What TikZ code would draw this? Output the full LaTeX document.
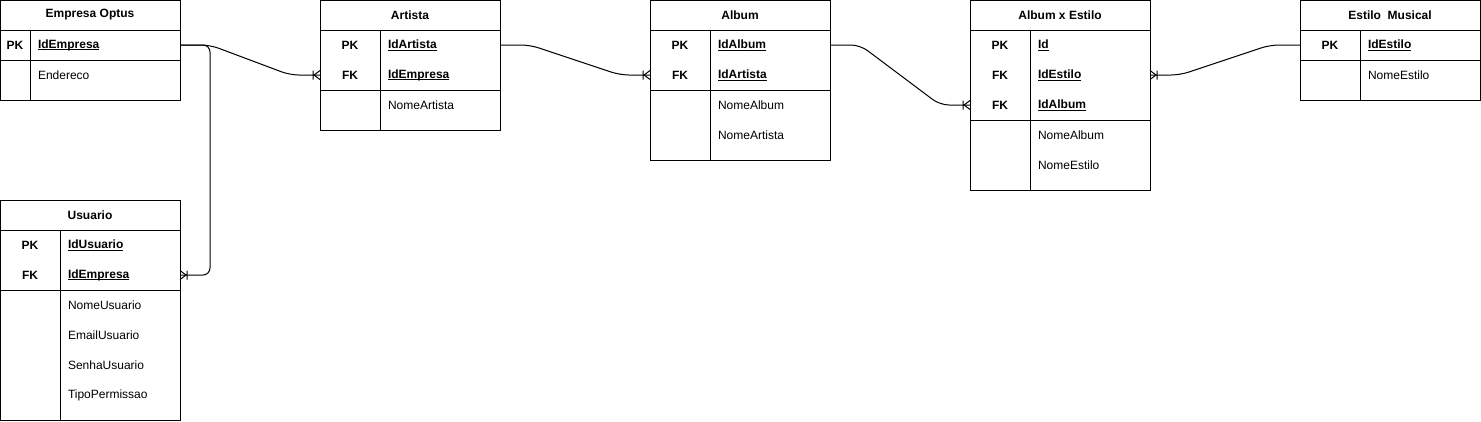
\documentclass[tikz,border=0pt,12pt]{standalone}
\usepackage{fontspec}
\setmainfont{Liberation Sans}
\usetikzlibrary{positioning,calc}

% crow's foot with bar (one or many)
\pgfdeclarearrow{
  name = crowfoot,
  setup code = {
    \pgfarrowssettipend{0pt}
    \pgfarrowssetlineend{0pt}
    \pgfarrowssetbackend{-7pt}
    \pgfarrowshullpoint{0pt}{4.5pt}
    \pgfarrowshullpoint{0pt}{-4.5pt}
    \pgfarrowshullpoint{-7pt}{4.5pt}
    \pgfarrowshullpoint{-7pt}{-4.5pt}
  },
  drawing code = {
    \pgfsetdash{}{0pt}
    \pgfpathmoveto{\pgfqpoint{0pt}{4.5pt}}
    \pgfpathlineto{\pgfqpoint{-6pt}{0pt}}
    \pgfpathlineto{\pgfqpoint{0pt}{-4.5pt}}
    \pgfpathmoveto{\pgfqpoint{-7pt}{4.5pt}}
    \pgfpathlineto{\pgfqpoint{-7pt}{-4.5pt}}
    \pgfusepathqstroke
  }
}

\newcommand{\idfield}[1]{\textbf{\underline{\smash{#1}}\vphantom{#1}}}

\begin{document}
\begin{tikzpicture}[x=1pt,y=-1pt,line width=1pt,
    tblhead/.style={draw,minimum width=180pt,minimum height=30pt,inner sep=0pt,outer sep=0pt,font=\bfseries},
    sect/.style={draw,minimum width=180pt,inner sep=0pt,outer sep=0pt},
    keycell/.style={minimum width=60pt,minimum height=30pt,inner sep=0pt,outer sep=0pt,font=\bfseries},
    fldcell/.style={minimum height=30pt,inner xsep=8pt,inner ysep=0pt,outer sep=0pt,text width=104pt,align=left},
    rel/.style={-crowfoot,rounded corners=9pt}]

    \useasboundingbox (0,0) rectangle (1481,421);

    % Empresa Optus
    \node[tblhead] (emp) at (90,15) {Empresa Optus};
    \node[sect,minimum height=30pt,below=0pt of emp] (emp-k) {};
    \node[sect,minimum height=40pt,below=0pt of emp-k] (emp-a) {};
    \node[keycell,minimum width=30pt,anchor=north west] (emp-pk) at (emp-k.north west) {PK};
    \node[fldcell,text width=134pt,right=0pt of emp-pk] (emp-id) {\idfield{IdEmpresa}};
    \node[fldcell,text width=134pt,anchor=north west] (emp-end) at (emp-id.west |- emp-a.north) {Endereco};
    \draw (emp-pk.north east) -- (emp-pk.east |- emp-a.south);

    % Usuario
    \node[tblhead] (usr) at (90,215) {Usuario};
    \node[sect,minimum height=60pt,below=0pt of usr] (usr-k) {};
    \node[sect,minimum height=130pt,below=0pt of usr-k] (usr-a) {};
    \node[keycell,anchor=north west] (usr-pk) at (usr-k.north west) {PK};
    \node[fldcell,right=0pt of usr-pk] (usr-id) {\idfield{IdUsuario}};
    \node[keycell,below=0pt of usr-pk] (usr-fk) {FK};
    \node[fldcell,right=0pt of usr-fk] (usr-emp) {\idfield{IdEmpresa}};
    \node[fldcell,anchor=north west] (usr-nome) at (usr-emp.west |- usr-a.north) {NomeUsuario};
    \node[fldcell,below=0pt of usr-nome] (usr-email) {EmailUsuario};
    \node[fldcell,below=0pt of usr-email] (usr-senha) {SenhaUsuario};
    \node[fldcell,below=0pt of usr-senha] (usr-tipo) {TipoPermissao};
    \draw (usr-pk.north east) -- (usr-pk.east |- usr-a.south);

    % Artista
    \node[tblhead] (art) at (410,15) {Artista};
    \node[sect,minimum height=60pt,below=0pt of art] (art-k) {};
    \node[sect,minimum height=40pt,below=0pt of art-k] (art-a) {};
    \node[keycell,anchor=north west] (art-pk) at (art-k.north west) {PK};
    \node[fldcell,right=0pt of art-pk] (art-id) {\idfield{IdArtista}};
    \node[keycell,below=0pt of art-pk] (art-fk) {FK};
    \node[fldcell,right=0pt of art-fk] (art-emp) {\idfield{IdEmpresa}};
    \node[fldcell,anchor=north west] (art-nome) at (art-emp.west |- art-a.north) {NomeArtista};
    \draw (art-pk.north east) -- (art-pk.east |- art-a.south);

    % Album
    \node[tblhead] (alb) at (740,15) {Album};
    \node[sect,minimum height=60pt,below=0pt of alb] (alb-k) {};
    \node[sect,minimum height=70pt,below=0pt of alb-k] (alb-a) {};
    \node[keycell,anchor=north west] (alb-pk) at (alb-k.north west) {PK};
    \node[fldcell,right=0pt of alb-pk] (alb-id) {\idfield{IdAlbum}};
    \node[keycell,below=0pt of alb-pk] (alb-fk) {FK};
    \node[fldcell,right=0pt of alb-fk] (alb-art) {\idfield{IdArtista}};
    \node[fldcell,anchor=north west] (alb-nome) at (alb-art.west |- alb-a.north) {NomeAlbum};
    \node[fldcell,below=0pt of alb-nome] (alb-nart) {NomeArtista};
    \draw (alb-pk.north east) -- (alb-pk.east |- alb-a.south);

    % Album x Estilo
    \node[tblhead] (axe) at (1060,15) {Album x Estilo};
    \node[sect,minimum height=90pt,below=0pt of axe] (axe-k) {};
    \node[sect,minimum height=70pt,below=0pt of axe-k] (axe-a) {};
    \node[keycell,anchor=north west] (axe-pk) at (axe-k.north west) {PK};
    \node[fldcell,right=0pt of axe-pk] (axe-id) {\idfield{Id}};
    \node[keycell,below=0pt of axe-pk] (axe-fk1) {FK};
    \node[fldcell,right=0pt of axe-fk1] (axe-est) {\idfield{IdEstilo}};
    \node[keycell,below=0pt of axe-fk1] (axe-fk2) {FK};
    \node[fldcell,right=0pt of axe-fk2] (axe-alb) {\idfield{IdAlbum}};
    \node[fldcell,anchor=north west] (axe-nalb) at (axe-alb.west |- axe-a.north) {NomeAlbum};
    \node[fldcell,below=0pt of axe-nalb] (axe-nest) {NomeEstilo};
    \draw (axe-pk.north east) -- (axe-pk.east |- axe-a.south);

    % Estilo Musical
    \node[tblhead] (est) at (1390,15) {Estilo\ \ Musical};
    \node[sect,minimum height=30pt,below=0pt of est] (est-k) {};
    \node[sect,minimum height=40pt,below=0pt of est-k] (est-a) {};
    \node[keycell,anchor=north west] (est-pk) at (est-k.north west) {PK};
    \node[fldcell,right=0pt of est-pk] (est-id) {\idfield{IdEstilo}};
    \node[fldcell,anchor=north west] (est-nome) at (est-id.west |- est-a.north) {NomeEstilo};
    \draw (est-pk.north east) -- (est-pk.east |- est-a.south);

    % relationships
    \draw[rel] (emp-id.east) -- ++(30,0) -- ($(art-fk.west)+(-30,0)$) -- (art-fk.west);
    \draw[rel,rounded corners=7pt] (emp-id.east) -- ++(30,0) |- (usr-emp.east);
    \draw[rel] (art-id.east) -- ++(30,0) -- ($(alb-fk.west)+(-30,0)$) -- (alb-fk.west);
    \draw[rel] (alb-id.east) -- ++(30,0) -- ($(axe-fk2.west)+(-30,0)$) -- (axe-fk2.west);
    \draw[rel] (est-pk.west) -- ++(-30,0) -- ($(axe-est.east)+(30,0)$) -- (axe-est.east);
\end{tikzpicture}
\end{document}
